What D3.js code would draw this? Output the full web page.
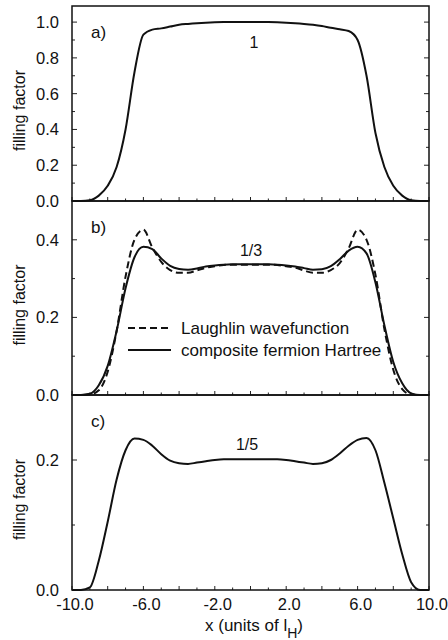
<!DOCTYPE html>
<html>
<head lang="en">
    <meta charset="UTF-8">
    <title></title>
    <script src="https://cdn.jsdelivr.net/npm/d3@7"></script>
    <style>
        body{margin:0;background:#fff;}
        text{font-family:"Liberation Sans",Arial,Helvetica,sans-serif;fill:#111;}
    </style>
</head>
<body>
<div id="chart"></div>
<script>
    // x grid (units of l_H)
    var xs=[-10,-9.5,-9,-8.5,-8,-7.5,-7,-6.5,-6,-5.5,-5,-4.5,-4,-3.5,-3,-2.5,-2,-1.5,-1,-0.5,
            0,0.5,1,1.5,2,2.5,3,3.5,4,4.5,5,5.5,6,6.5,7,7.5,8,8.5,9,9.5,10];
    // a) nu = 1
    var fillA=[0,0,0.004,0.03,0.085,0.19,0.40,0.72,0.93,0.958,0.965,0.975,0.985,0.99,0.994,0.997,0.999,1,1,1,
               1,1,1,0.999,0.997,0.994,0.99,0.985,0.978,0.968,0.96,0.95,0.90,0.70,0.38,0.19,0.085,0.03,0.004,0,0];
    // b) nu = 1/3, composite fermion Hartree (solid)
    var fillB_cf=[0,0,0.003,0.025,0.075,0.165,0.275,0.355,0.382,0.376,0.352,0.333,0.325,0.323,0.326,0.331,0.334,0.336,0.337,0.337,
                  0.337,0.337,0.337,0.336,0.334,0.331,0.327,0.323,0.324,0.332,0.35,0.372,0.382,0.365,0.29,0.18,0.085,0.03,0.004,0,0];
    // b) nu = 1/3, Laughlin wavefunction (dashed)
    var fillB_lau=[0,0,0.001,0.012,0.06,0.165,0.305,0.40,0.426,0.38,0.343,0.322,0.315,0.315,0.321,0.328,0.332,0.335,0.336,0.336,
                   0.336,0.336,0.336,0.335,0.332,0.328,0.321,0.315,0.315,0.322,0.34,0.378,0.426,0.40,0.31,0.17,0.065,0.015,0.001,0,0];
    // c) nu = 1/5
    var fillC=[0,0,0.004,0.045,0.105,0.17,0.215,0.233,0.231,0.222,0.209,0.199,0.195,0.194,0.196,0.198,0.2,0.201,0.201,0.201,
               0.201,0.201,0.201,0.201,0.2,0.198,0.196,0.194,0.195,0.2,0.21,0.222,0.231,0.234,0.215,0.165,0.11,0.055,0.012,0,0];

    var xTickLabels=[-10,-6,-2,2,6,10];
    var legendNames=['Laughlin wavefunction','composite fermion Hartree'];

    var width=448,height=640;
    var left=72,right=429;
    var panels=[
        {tag:'a)',label:'1',top:6,bottom:201,ymax:1.09,labels:[0,0.2,0.4,0.6,0.8,1.0],
         series:[{values:fillA,dash:null}]},
        {tag:'b)',label:'1/3',top:201,bottom:395,ymax:0.5,labels:[0,0.2,0.4],
         series:[{values:fillB_lau,dash:'7,4'},{values:fillB_cf,dash:null}]},
        {tag:'c)',label:'1/5',top:395,bottom:590,ymax:0.3,labels:[0,0.2],
         series:[{values:fillC,dash:null}]}
    ];

    // plain hyphen instead of the unicode minus, like the original
    function fmt(d){ return d3.format('.1f')(d).replace('\u2212','-'); }

    var svg=d3.select('#chart').append('svg')
            .attr('width',width)
            .attr('height',height);

    var x=d3.scaleLinear().domain([-10,10]).range([left,right]);

    panels.forEach(function(p,pi){
        var y=d3.scaleLinear().domain([0,p.ymax]).range([p.bottom,p.top]);
        var g=svg.append('g');

        // y ticks, both sides, pointing inward
        var yt=d3.range(0,p.ymax+1e-9,0.1);
        yt.forEach(function(v){
            var major=Math.abs(Math.round(v*10)%2)===0;
            var len=major?5:3;
            g.append('line').attr('x1',left).attr('x2',left+len)
                .attr('y1',y(v)).attr('y2',y(v)).attr('stroke','#222').attr('stroke-width',1);
            g.append('line').attr('x1',right).attr('x2',right-len)
                .attr('y1',y(v)).attr('y2',y(v)).attr('stroke','#222').attr('stroke-width',1);
        });
        g.selectAll('text.ylab')
                .data(p.labels)
                .enter()
                .append('text')
                .attr('class','ylab')
                .attr('x',59)
                .attr('y',function(d){return y(d)})
                .attr('dy','0.36em')
                .attr('text-anchor','end')
                .style('font-size','16.5px')
                .text(fmt);

        // x ticks along bottom
        d3.range(-10,10.01,1).forEach(function(v){
            var len=(Math.round(v)%2===0)?4:2.5;
            g.append('line').attr('x1',x(v)).attr('x2',x(v))
                .attr('y1',p.bottom).attr('y2',p.bottom-len).attr('stroke','#222').attr('stroke-width',1);
        });

        // curves
        var line=d3.line()
                .x(function(d,i){return x(xs[i])})
                .y(function(d){return y(d)})
                .curve(d3.curveMonotoneX);
        p.series.forEach(function(s){
            g.append('path')
                .attr('d',line(s.values))
                .attr('fill','none')
                .attr('stroke','#111')
                .attr('stroke-width',2)
                .attr('stroke-dasharray',s.dash);
        });

        // frame
        g.append('rect')
                .attr('x',left).attr('y',p.top)
                .attr('width',right-left).attr('height',p.bottom-p.top)
                .attr('fill','none').attr('stroke','#111').attr('stroke-width',1.5);

        g.append('text').attr('x',91).attr('y',p.top+32)
                .style('font-size','17px').text(p.tag);
        g.append('text').attr('x',[254,251,247][pi]).attr('y',[48,256,450][pi])
                .attr('text-anchor','middle')
                .style('font-size','16px').text(p.label);

        g.append('text')
                .attr('transform','translate(25,'+((p.top+p.bottom)/2+7)+') rotate(-90)')
                .attr('text-anchor','middle')
                .style('font-size','16px')
                .text('filling factor');
    });

    // legend in panel b
    var lg=svg.append('g');
    lg.selectAll('line')
            .data(legendNames)
            .enter()
            .append('line')
            .attr('x1',128).attr('x2',171)
            .attr('y1',function(d,i){return 328+i*22})
            .attr('y2',function(d,i){return 328+i*22})
            .attr('stroke','#111').attr('stroke-width',2)
            .attr('stroke-dasharray',function(d,i){return i===0?'7,4':null});
    lg.selectAll('text')
            .data(legendNames)
            .enter()
            .append('text')
            .attr('x',181)
            .attr('y',function(d,i){return 328+i*22})
            .attr('dy','0.36em')
            .style('font-size','17px')
            .text(function(d){return d});

    // x axis labels
    svg.selectAll('text.xlab')
            .data(xTickLabels)
            .enter()
            .append('text')
            .attr('class','xlab')
            .attr('x',function(d){return x(d)+3})
            .attr('y',610)
            .attr('text-anchor','middle')
            .style('font-size','16.5px')
            .text(fmt);

    var xt=svg.append('text')
            .attr('x',254).attr('y',631)
            .attr('text-anchor','middle')
            .style('font-size','17px');
    xt.append('tspan').text('x (units of l');
    xt.append('tspan').attr('dy',7).style('font-size','14px').text('H');
    xt.append('tspan').attr('dy',-7).text(')');
</script>
</body>
</html>
